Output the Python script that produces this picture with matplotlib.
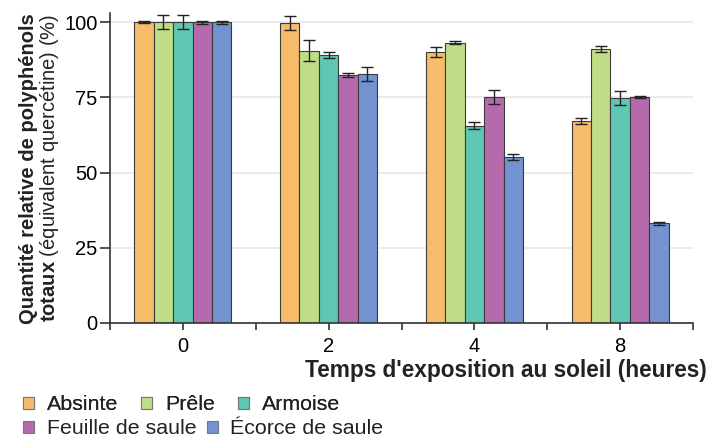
import matplotlib
matplotlib.use("Agg")
import matplotlib.pyplot as plt
import numpy as np
from matplotlib.patches import Patch

plt.rcParams['font.family'] = ['Liberation Sans', 'DejaVu Sans']
plt.rcParams['mathtext.fontset'] = 'custom'
plt.rcParams['mathtext.rm'] = 'Liberation Sans'
plt.rcParams['mathtext.bf'] = 'Liberation Sans:bold'

# data
temps = ['0', '2', '4', '8']
plantes = ['Absinte', 'Prêle', 'Armoise', 'Feuille de saule', 'Écorce de saule']
couleurs = ['#f6bc6a', '#bedd86', '#5fc6b3', '#b56aae', '#7293cf']

absinte = [100, 99.8, 90, 67.1]
absinte_err = [0.3, 2.3, 1.6, 1.1]
prele = [100, 90.4, 93.1, 90.9]
prele_err = [2.3, 3.5, 0.5, 1.0]
armoise = [100, 89.2, 65.6, 74.8]
armoise_err = [2.4, 1.0, 1.1, 2.3]
feuille = [100, 82.5, 75.1, 75.0]
feuille_err = [0.5, 0.7, 2.2, 0.3]
ecorce = [100, 82.7, 55.1, 33.1]
ecorce_err = [0.5, 2.2, 1.0, 0.5]

series = [absinte, prele, armoise, feuille, ecorce]
erreurs = [absinte_err, prele_err, armoise_err, feuille_err, ecorce_err]

fig = plt.figure(figsize=(7.19, 4.43), dpi=100)
ax = fig.add_axes([110/719, 120/443, 583/719, 310/443])

x = np.arange(len(temps))
w = 0.1333
for k, (vals, errs) in enumerate(zip(series, erreurs)):
    ax.bar(x + (k - 2) * w, vals, w, yerr=errs, color=couleurs[k],
           edgecolor='#3a3a3a', linewidth=0.8, label=plantes[k],
           error_kw=dict(ecolor='#222222', elinewidth=1, capsize=4, capthick=1),
           zorder=2)

ax.set_xlim(-0.5, 3.5)
ax.set_ylim(0, 103)
ax.set_yticks([0, 25, 50, 75, 100])
ax.set_xticks(x)
ax.set_xticklabels(temps)
ax.set_xticks(np.arange(-0.5, 4, 1), minor=True)
ax.tick_params(axis='x', which='both', direction='out', length=5, width=1.2,
               color='#333333', labelsize=14.5, pad=5)
ax.tick_params(axis='y', direction='out', length=7, width=1.2,
               color='#333333', labelsize=14.5, pad=2)
for s in ['top', 'right']:
    ax.spines[s].set_visible(False)
for s in ['left', 'bottom']:
    ax.spines[s].set_color('#333333')
    ax.spines[s].set_linewidth(1.2)
ax.yaxis.grid(True, color='#e8e8e8', linewidth=1.2)
ax.set_axisbelow(True)

fig.text(29/719, 1 - 169/443, 'Quantité relative de polyphénols',
         rotation=90, ha='center', va='center', fontsize=14.5,
         fontweight='bold', color='#222222')
fig.text(50/719, 1 - 168/443, r'$\mathbf{totaux}$ (équivalent quercétine) (%)',
         rotation=90, ha='center', va='center', fontsize=14.5, color='#222222')

fig.text(707/719, 1 - 371/443, "Temps d'exposition au soleil (heures)",
         ha='right', va='center', fontsize=16.3, fontweight='bold', color='#222222')

handles = [Patch(facecolor=c, edgecolor='#777777', linewidth=0.8) for c in couleurs]
leg1 = fig.legend(handles[:3], plantes[:3], loc='center left',
                  bbox_to_anchor=(23/719, 1 - 405/443), ncol=3, frameon=False,
                  fontsize=15.4, handlelength=0.5, handleheight=0.5,
                  handletextpad=0.6, columnspacing=1.1, borderpad=0,
                  borderaxespad=0)
for t in leg1.get_texts():
    t.set_color('#222222')
leg2 = fig.legend(handles[3:], plantes[3:], loc='center left',
                  bbox_to_anchor=(23/719, 1 - 429/443), ncol=2, frameon=False,
                  fontsize=15.4, handlelength=0.5, handleheight=0.5,
                  handletextpad=0.6, columnspacing=0.5, borderpad=0,
                  borderaxespad=0)
for t in leg2.get_texts():
    t.set_color('#222222')
fig.add_artist(leg1)

fig.savefig('out.png', dpi=100)
